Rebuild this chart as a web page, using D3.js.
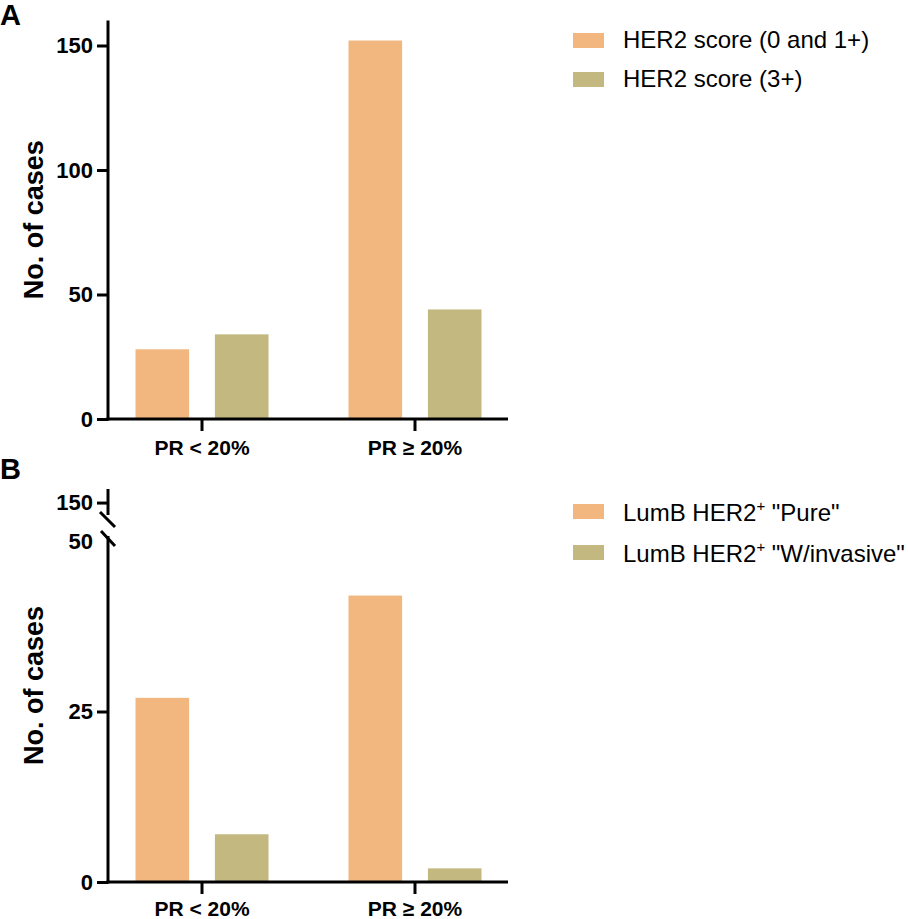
<!DOCTYPE html>
<html>
<head>
<meta charset="utf-8">
<script src="https://cdn.jsdelivr.net/npm/d3@7"></script>
<style>
  html, body { margin: 0; padding: 0; background: #fff; }
  svg { display: block; }
  text { font-family: "Liberation Sans", Arial, Helvetica, sans-serif; fill: #000; }
</style>
</head>
<body>
<svg id="chart" width="908" height="919"></svg>
<script>
// ---- Data ----
const categories = ["PR < 20%", "PR \u2265 20%"];

const seriesA = ["HER2 score (0 and 1+)", "HER2 score (3+)"];
const valuesA_low  = [28, 34];    // PR < 20%
const valuesA_high = [152, 44];   // PR ≥ 20%
const ticksA = [0, 50, 100, 150];

const seriesB = ["Pure", "W/invasive"];
const valuesB_low  = [27, 7];
const valuesB_high = [42, 2];
const ticksB_lower = [0, 25, 50];
const ticksB_upper = [150];

const colors = ["#F1B77F", "#C2B880"];

// ---- Layout ----
const svg = d3.select("#chart");
const axisX0 = 108, axisX1 = 508;
const fmt = d3.format("d");

const xCat = d3.scalePoint().domain(categories).range([axisX0, axisX1]).padding(0.439);
const xSub = d3.scaleBand().domain([0, 1]).range([-66, 67]).paddingInner(0.325).paddingOuter(0);

function drawBars(g, yScale, rows) {
  categories.forEach((c, ci) => {
    rows[ci].forEach((v, si) => {
      g.append("rect")
        .attr("x", xCat(c) + xSub(si))
        .attr("width", xSub.bandwidth())
        .attr("y", yScale(v))
        .attr("height", yScale(0) - yScale(v))
        .attr("fill", colors[si]);
    });
  });
}

function styleAxis(sel, fs) {
  sel.select(".domain").remove();
  sel.selectAll(".tick line").attr("stroke", "#000").attr("stroke-width", 3);
  sel.selectAll(".tick text")
    .attr("font-size", fs).attr("font-weight", "bold")
    .attr("font-family", "'Liberation Sans', Arial, sans-serif").attr("fill", "#000");
}

function drawXAxis(g, y0, labelY) {
  g.append("line").attr("x1", axisX0 - 1.5).attr("x2", axisX1).attr("y1", y0).attr("y2", y0)
    .attr("stroke", "#000").attr("stroke-width", 3);
  const ax = g.append("g").attr("transform", `translate(0,${y0})`)
    .call(d3.axisBottom(xCat).tickSize(12).tickPadding(14));
  styleAxis(ax, 21);
  ax.selectAll(".tick text").attr("dy", null).attr("y", labelY - y0);
}

// ---- Panel A ----
const gA = svg.append("g");
const yA = d3.scaleLinear().domain([0, 160]).range([419, 20.6]);
drawBars(gA, yA, [valuesA_low, valuesA_high]);

const axA = gA.append("g").attr("transform", `translate(${axisX0},0)`)
  .call(d3.axisLeft(yA).tickValues(ticksA).tickFormat(fmt).tickSize(11).tickPadding(4));
styleAxis(axA, 22);
gA.append("line").attr("x1", axisX0).attr("x2", axisX0).attr("y1", yA(160)).attr("y2", yA(0) + 1.5)
  .attr("stroke", "#000").attr("stroke-width", 3);
drawXAxis(gA, yA(0), 455);

gA.append("text").attr("transform", `translate(43,${(yA(0) + yA(160)) / 2}) rotate(-90)`)
  .attr("text-anchor", "middle").attr("font-size", 27).attr("font-weight", "bold")
  .text("No. of cases");
gA.append("text").attr("x", 0).attr("y", 25).attr("font-size", 29).attr("font-weight", "bold").text("A");

// Legend A
const legA = gA.append("g");
seriesA.forEach((s, i) => {
  const base = 48 + i * 39;
  legA.append("rect").attr("x", 573).attr("y", base - 15).attr("width", 31).attr("height", 15).attr("fill", colors[i]);
  legA.append("text").attr("x", 623).attr("y", base).attr("font-size", 24).text(s);
});

// ---- Panel B ----
const gB = svg.append("g");
const yB = d3.scaleLinear().domain([0, 50]).range([882, 541]);
const yBu = d3.scaleLinear().domain([147.8, 152]).range([517.5, 489]);
drawBars(gB, yB, [valuesB_low, valuesB_high]);

const axB = gB.append("g").attr("transform", `translate(${axisX0},0)`)
  .call(d3.axisLeft(yB).tickValues(ticksB_lower).tickFormat(fmt).tickSize(11).tickPadding(4));
styleAxis(axB, 22);
axB.selectAll(".tick").filter(d => d === 50).select("line").remove();

const axBu = gB.append("g").attr("transform", `translate(${axisX0},0)`)
  .call(d3.axisLeft(yBu).tickValues(ticksB_upper).tickFormat(fmt).tickSize(11).tickPadding(4));
styleAxis(axBu, 22);

// axis segments
gB.append("line").attr("x1", axisX0).attr("x2", axisX0).attr("y1", yBu(152)).attr("y2", 515)
  .attr("stroke", "#000").attr("stroke-width", 3);
gB.append("line").attr("x1", axisX0).attr("x2", axisX0).attr("y1", 536).attr("y2", yB(0) + 1.5)
  .attr("stroke", "#000").attr("stroke-width", 3);
// break marks
[[100, 512, 115, 527], [101, 531, 115, 546]].forEach(([x1, y1, x2, y2]) => {
  gB.append("line").attr("x1", x1).attr("y1", y1).attr("x2", x2).attr("y2", y2)
    .attr("stroke", "#000").attr("stroke-width", 3);
});
drawXAxis(gB, yB(0), 916);

gB.append("text").attr("transform", `translate(43,${(yB(0) + yBu(152)) / 2}) rotate(-90)`)
  .attr("text-anchor", "middle").attr("font-size", 27).attr("font-weight", "bold")
  .text("No. of cases");
gB.append("text").attr("x", 0).attr("y", 479).attr("font-size", 29).attr("font-weight", "bold").text("B");

// Legend B
const legB = gB.append("g");
seriesB.forEach((s, i) => {
  const base = 521 + i * 41;
  legB.append("rect").attr("x", 573).attr("y", base - 17).attr("width", 31).attr("height", 15).attr("fill", colors[i]);
  const t = legB.append("text").attr("x", 623).attr("y", base).attr("font-size", 24);
  t.append("tspan").text("LumB HER2");
  t.append("tspan").attr("font-size", 15).attr("dy", -10).text("+");
  t.append("tspan").attr("dy", 10).text(" \"" + s + "\"");
});
</script>
</body>
</html>
